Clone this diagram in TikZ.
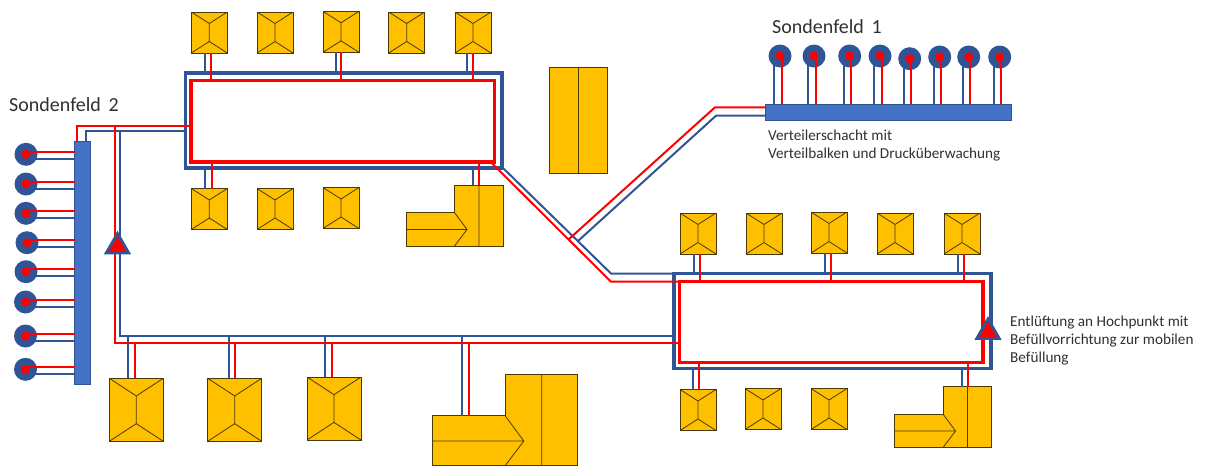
\documentclass[tikz,border=0pt]{standalone}
\usepackage{fontspec}
\setmainfont{Carlito}
\usepackage{tikz}
\usetikzlibrary{shapes.geometric, calc}
\definecolor{PipeBlue}{HTML}{2F5597}
\definecolor{PipeRed}{HTML}{FF0000}
\definecolor{BarBlue}{HTML}{4472C4}
\definecolor{Roof}{HTML}{FFC000}
\definecolor{RoofLine}{HTML}{4A3A08}
\definecolor{Label}{HTML}{303030}
\tikzset{
    hiproof/.style={draw=RoofLine, fill=Roof, line width=0.9pt, inner sep=0pt, outer sep=0pt,
        minimum width=36pt, minimum height=41pt,
        path picture={
            \coordinate (ridgeN) at ($(path picture bounding box.north)!0.28!(path picture bounding box.south)$);
            \coordinate (ridgeS) at ($(path picture bounding box.north)!0.72!(path picture bounding box.south)$);
            \draw[RoofLine, line width=0.8pt] (path picture bounding box.north west) -- (ridgeN)
                -- (path picture bounding box.north east) (ridgeN) -- (ridgeS)
                (path picture bounding box.south west) -- (ridgeS) -- (path picture bounding box.south east);
        }},
    bighouse/.style={hiproof, minimum width=54pt, minimum height=63pt},
    barn/.style={draw=RoofLine, fill=Roof, line width=0.9pt, inner sep=0pt, outer sep=0pt,
        minimum width=58pt, minimum height=106pt,
        path picture={\draw[RoofLine, line width=0.8pt] (path picture bounding box.north) -- (path picture bounding box.south);}},
    lroof/.pic={
        \draw[RoofLine, fill=Roof, line width=0.9pt] (0,27.5) -- (48.5,27.5) -- (48.5,0) -- (97,0) -- (97,61) -- (0,61) -- cycle;
        \draw[RoofLine, line width=0.8pt] (73,0) -- (73,61) (0,44.5) -- (61,44.5) (48.5,27.5) -- (61,44.5) -- (48.5,61);
        \coordinate (-top) at (73,0);
        \coordinate (-wing) at (20,27.5);
    },
    probe/.style={circle, fill=PipeBlue, inner sep=0pt, minimum size=23pt},
    probedot/.style={circle, fill=PipeRed, inner sep=0pt, minimum size=9pt},
    beam/.style={draw=PipeBlue, fill=BarBlue, line width=0.8pt, inner sep=0pt, outer sep=0pt},
    bluepipe/.style={draw=PipeBlue, line width=2pt},
    redpipe/.style={draw=PipeRed, line width=2pt},
    bluering/.style={draw=PipeBlue, line width=3.5pt, inner sep=0pt, outer sep=0pt},
    redring/.style={draw=PipeRed, line width=3.5pt, inner sep=0pt, outer sep=0pt},
    vent/.style={regular polygon, regular polygon sides=3, draw=PipeBlue, fill=PipeRed,
        line width=2.8pt, inner sep=0pt, minimum size=26pt},
    note/.style={text=Label, font=\fontsize{15.2}{18}\selectfont, align=left, anchor=north west, inner sep=0pt},
    fieldname/.style={text=Label, font=\fontsize{20}{24}\selectfont, anchor=west, inner sep=0pt}
}

\begin{document}
\begin{tikzpicture}[x=1pt, y=-1pt]
\useasboundingbox (0,0) rectangle (1205,466);

% houses
\foreach \name/\px/\py in {ta/209.3/32.5, tb/275/32.5, tc/341/31.8, td/406.7/32.5, te/473/32.5,
        ua/209.3/209, ub/275/209, uc/341/208,
        ra/698/233.5, rb/764/233.5, rc/829/232.5, rd/895/233.5, re/962/233.5,
        sa/698/410, sb/763/409, sc/829/409}
    \node[hiproof] (\name) at (\px,\py) {};
\foreach \name/\px/\py in {ba/136.3/409.8, bb/234.7/409.8, bc/334/408.5}
    \node[bighouse] (\name) at (\px,\py) {};
\node[barn] (barnA) at (578,120) {};
\pic (la) at (406,185) {lroof};
\pic (lb) at (894.5,386.5) {lroof};
\pic[scale=1.5] (lc) at (432.3,374.3) {lroof};

\coordinate (blueTee) at (120,130.7);
\coordinate (redTee) at (114.8,125.7);
\coordinate (blueBus) at (120,336);
\coordinate (redBus) at (114.8,343.3);
\coordinate (blueKnee) at (611,273.5);
\coordinate (redKnee) at (611,281.7);
\coordinate (blueFork) at (578,241);
\coordinate (redFork) at (568.5,239.5);
\coordinate (blueBend) at (716,115.7);
\coordinate (redBend) at (715,107.3);
\coordinate (blueStart) at (503.3,168.3);
\coordinate (redStart) at (492,163.3);

% probes
\foreach \name/\px/\py in {na/780/56, nb/814/56, nc/849.7/56, nd/880/56, ne/909.7/58.7, nf/939.7/57, ng/968.7/57, nh/999.7/57,
        wa/26/154.3, wb/26/184, wc/26/213.3, wd/27/242.7, we/26/271.7, wf/25.5/302, wg/25.5/336, wh/25.5/369.3}
    \node[probe] (\name) at (\px,\py) {};

% rings and beams
\node[bluering, minimum width=316.7pt, minimum height=95pt] (ringA) at (343.65,120.5) {};
\node[bluering, minimum width=317pt, minimum height=94.8pt] (ringB) at (832.5,320.9) {};
\node[beam, minimum width=15.5pt, minimum height=242.3pt] (beamW) at (82.25,262.85) {};
\node[beam, minimum width=246.7pt, minimum height=15.7pt] (beamN) at (888.35,112.15) {};

% blue lines
\draw[bluepipe] ([xshift=3.75]beamW.north) |- ([yshift=-10.2]ringA.west);
\draw[bluepipe] (blueTee) |- ([yshift=-15.1]ringB.west);
\draw[bluepipe] (blueStart) -- (blueKnee) -- (blueKnee -| ringB.west);
\draw[bluepipe] (blueFork) -- (blueBend) -- (blueBend -| beamN.west);
\foreach \name/\dx in {ta/-4.3, tc/-5.3, te/-6.3}
    \draw[bluepipe] ([xshift=\dx]\name.south) -- ([xshift=\dx]\name.south |- ringA.north);
\foreach \name/\dx in {ra/-4.5, rc/-4, re/-4}
    \draw[bluepipe] ([xshift=\dx]\name.south) -- ([xshift=\dx]\name.south |- ringB.north);
\draw[bluepipe] ([xshift=-4.3]ua.north) -- ([xshift=-4.3]ua.north |- ringA.south);
\draw[bluepipe] ([xshift=-4.7]sa.north) -- ([xshift=-4.7]sa.north |- ringB.south);
\draw[bluepipe] ([xshift=-5.7]la-top) -- ([xshift=-5.7]la-top |- ringA.south);
\draw[bluepipe] ([xshift=-5.7]lb-top) -- ([xshift=-5.7]lb-top |- ringB.south);
\foreach \name/\dx in {ba/-8.3, bb/-6, bc/-9}
    \draw[bluepipe] ([xshift=\dx]\name.north) -- ([xshift=\dx]\name.north |- blueBus);
\draw[bluepipe] (lc-wing) -- (lc-wing |- blueBus);
\foreach \name in {na,nb,nc,nd,ne,nf,ng,nh}
    \draw[bluepipe] ([xshift=-6]\name.center) -- ([xshift=-6]\name.center |- beamN.north);
\foreach \name in {wa,wb,wc,wd,we,wf,wg,wh}
    \draw[bluepipe] ([yshift=-4.5]\name.center) -- ([yshift=-4.5]\name.center -| beamW.west);

% red rings
\node[redring, minimum width=303.3pt, minimum height=81.7pt] (loopA) at (342.65,121.15) {};
\node[redring, minimum width=303.5pt, minimum height=80.6pt] (loopB) at (831.25,322) {};

% red lines
\draw[redpipe] ([xshift=-5.25]beamW.north) |- ([yshift=-4.5]loopA.west);
\draw[redpipe] (redTee) |- (redBus -| loopB.west);
\draw[redpipe] (redStart) -- (redKnee) -- (redKnee -| loopB.west);
\draw[redpipe] (redFork) -- (redBend) -- (redBend -| beamN.west);
\foreach \name/\dx in {ta/1.4, tc/0.3, te/-0.3}
    \draw[redpipe] ([xshift=\dx]\name.south) -- ([xshift=\dx]\name.south |- loopA.north);
\foreach \name/\dx in {ra/1.5, rc/2, re/2}
    \draw[redpipe] ([xshift=\dx]\name.south) -- ([xshift=\dx]\name.south |- loopB.north);
\draw[redpipe] ([xshift=2.4]ua.north) -- ([xshift=2.4]ua.north |- loopA.south);
\draw[redpipe] ([xshift=1.3]sa.north) -- ([xshift=1.3]sa.north |- loopB.south);
\draw[redpipe] (la-top) -- (la-top |- loopA.south);
\draw[redpipe] (lb-top) -- (lb-top |- loopB.south);
\foreach \name/\dx in {ba/-1.3, bb/0.6, bc/-2}
    \draw[redpipe] ([xshift=\dx]\name.north) -- ([xshift=\dx]\name.north |- redBus);
\draw[redpipe] ([xshift=6.5]lc-wing) -- ([xshift=6.5]lc-wing |- redBus);
\foreach \name in {na,nb,nc,nd,ne,nf,ng,nh} {
    \draw[redpipe] ([xshift=1.5]\name.center) -- ([xshift=1.5]\name.center |- beamN.north);
    \node[probedot] (\name-dot) at (\name) {};
}
\foreach \name in {wa,wb,wc,wd,we,wf,wg,wh} {
    \draw[redpipe] ([yshift=2.5]\name.center) -- ([yshift=2.5]\name.center -| beamW.west);
    \node[probedot] (\name-dot) at (\name) {};
}

% vents
\node[vent] (ventW) at (117.5,246.5) {};
\node[vent] (ventE) at (988,332) {};

% labels
\node[fieldname] (fieldW) at (9,105) {Sondenfeld\, 2};
\node[fieldname] (fieldN) at (772,27) {Sondenfeld\, 1};
\node[note] (noteBeam) at (768,129.5) {Verteilerschacht mit\\Verteilbalken und Drucküberwachung};
\node[note] (noteVent) at (1010,316) {Entlüftung an Hochpunkt mit\\Befüllvorrichtung zur mobilen\\Befüllung};
\end{tikzpicture}
\end{document}
